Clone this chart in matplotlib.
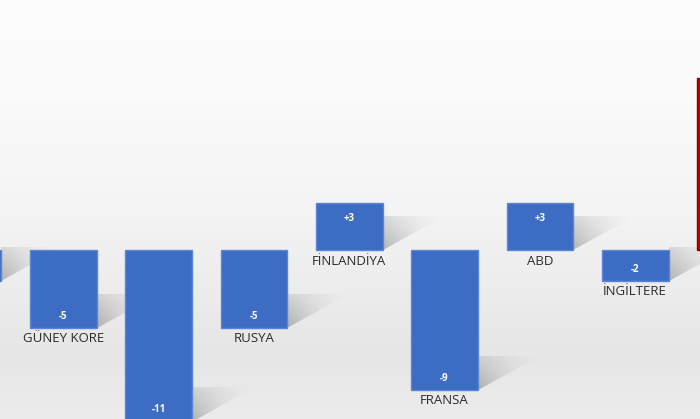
import numpy as np
import matplotlib
matplotlib.use("Agg")
import matplotlib.pyplot as plt
from matplotlib.colors import LinearSegmentedColormap
from matplotlib.patches import Polygon

# ---- data ----
categories = ["", "GÜNEY KORE", "", "RUSYA", "FİNLANDİYA", "FRANSA", "ABD", "İNGİLTERE", ""]
values = [-2, -5, -11, -5, 3, -9, 3, -2, 11]
value_labels = ["-2", "-5", "-11", "-5", "+3", "-9", "+3", "-2", "+11"]
bar_colors = ["#3d6cc4"] * 8 + ["#c00000"]
edge_colors = ["#5a86d6"] * 8 + ["#8e0000"]

fig = plt.figure(figsize=(7.0, 4.19), dpi=100)
ax = fig.add_axes([0, 0, 1, 1])

x = np.arange(len(values))
xlim = (0.336, 7.68)
ylim = (-10.83, 16.03)

# background gradient
cmap = LinearSegmentedColormap.from_list(
    "bg", [(0.0, "#ececec"), (0.15, "#e6e6e6"), (0.30, "#ececec"),
           (0.50, "#f4f4f4"), (0.75, "#fafafa"), (1.0, "#fdfdfd")])
grad = np.linspace(0, 1, 512).reshape(-1, 1)
ax.imshow(grad, aspect="auto", cmap=cmap, origin="lower",
          extent=[xlim[0], xlim[1], ylim[0], ylim[1]], zorder=0,
          interpolation="bilinear")

w = 0.70
# soft shadows to the lower-right of each bar
sh = np.zeros((64, 64, 4))
gx = np.linspace(0, 1, 64)
gy = np.linspace(0, 1, 64)
GX, GY = np.meshgrid(gx, gy)
sh[..., :3] = 0.35
sh[..., 3] = 0.40 * (1 - GX) ** 1.5 * (1 - 0.6 * GY)
for xi, v in zip(x, values):
    bottom = min(v, 0)
    rx = xi + w / 2
    hh = 2.2
    ww = 0.65
    poly = Polygon([(rx, bottom), (rx, bottom + hh), (rx + ww, bottom + hh)],
                   closed=True, transform=ax.transData)
    im = ax.imshow(sh, extent=[rx, rx + ww, bottom, bottom + hh], origin="lower",
                   aspect="auto", zorder=1, interpolation="bilinear")
    im.set_clip_path(poly)

ax.bar(x, values, width=w, color=bar_colors, edgecolor=edge_colors,
       linewidth=1.0, zorder=2)

for xi, v, vl, cat in zip(x, values, value_labels, categories):
    if xi - 0.3 < xlim[0] or xi + 0.3 > xlim[1]:
        continue
    if v < 0:
        ax.text(xi, v + 0.75, vl, ha="center", va="center", color="white",
                fontsize=7, fontweight="bold", family="Open Sans", zorder=3)
        ax.text(xi, v - 0.65, cat, ha="center", va="center", color="#2b2b2b",
                fontsize=9.5, family="Open Sans", zorder=3)
    else:
        ax.text(xi, v - 0.95, vl, ha="center", va="center", color="white",
                fontsize=7, fontweight="bold", family="Open Sans", zorder=3)
        ax.text(xi, -0.75, cat, ha="center", va="center", color="#2b2b2b",
                fontsize=9.5, family="Open Sans", zorder=3)

ax.set_xlim(*xlim)
ax.set_ylim(*ylim)
ax.axis("off")
fig.savefig("out.png", dpi=100)
